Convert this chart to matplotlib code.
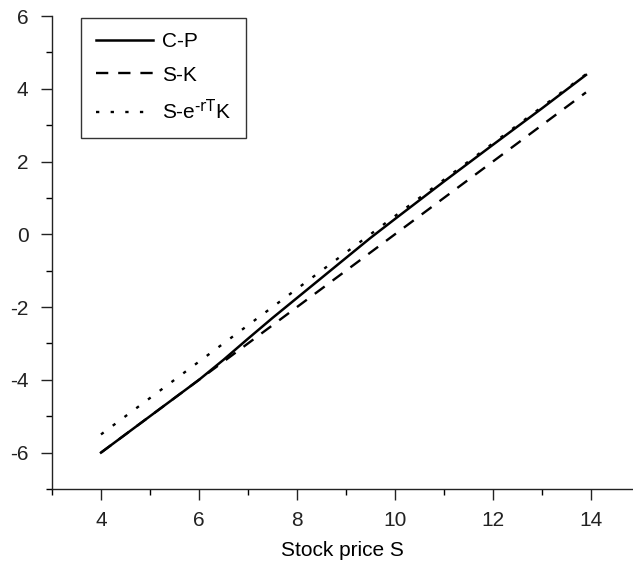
import numpy as np
import matplotlib
matplotlib.use("Agg")
import matplotlib.pyplot as plt
from matplotlib.ticker import MultipleLocator

plt.rcParams["font.family"] = ["Liberation Sans", "DejaVu Sans"]
plt.rcParams["mathtext.default"] = "regular"
plt.rcParams["axes.unicode_minus"] = False

# Stock price grid and read-off values
S = [4, 5, 6, 6.5, 7, 7.5, 8, 8.5, 9, 9.5, 10, 11, 12, 13, 13.9]
c_minus_p = [-6.0, -5.0, -4.0, -3.45, -2.87, -2.3, -1.75, -1.2, -0.65, -0.1,
             0.42, 1.45, 2.46, 3.46, 4.38]
s_minus_k = [-6.0, -5.0, -4.0, -3.5, -3.0, -2.5, -2.0, -1.5, -1.0, -0.5,
             0.0, 1.0, 2.0, 3.0, 3.9]
s_minus_disc_k = [-5.5, -4.5, -3.5, -3.0, -2.5, -2.0, -1.5, -1.0, -0.5, 0.0,
                  0.5, 1.5, 2.5, 3.5, 4.4]

FS = 15

fig = plt.figure(figsize=(6.33, 5.66), dpi=100)
ax = fig.add_axes([52 / 633, 77 / 566, 581 / 633, 473 / 566])

ax.plot(S, c_minus_p, color="black", lw=1.8, ls="-", label="C-P")
ax.plot(S, s_minus_k, color="black", lw=1.7, ls=(0, (5.2, 4.2)), label="S-K")
ax.plot(S, s_minus_disc_k, color="black", lw=1.7, ls=(0, (1.4, 4.8)),
        label=r"S-e$^{\text{-rT}}$K")

ax.set_xlim(3, 14.86)
ax.set_ylim(-7, 6)
ax.xaxis.set_major_locator(MultipleLocator(2))
ax.xaxis.set_minor_locator(MultipleLocator(1))
ax.yaxis.set_major_locator(MultipleLocator(2))
ax.yaxis.set_minor_locator(MultipleLocator(1))
ax.tick_params(which="major", direction="out", length=8, width=1, labelsize=FS,
               colors="#222222")
ax.tick_params(axis="x", which="major", pad=8)
ax.tick_params(axis="y", which="major", pad=9)
ax.tick_params(which="minor", direction="out", length=4, width=1)
for side in ("top", "right"):
    ax.spines[side].set_visible(False)
for side in ("left", "bottom"):
    ax.spines[side].set_linewidth(1)
    ax.spines[side].set_color("#222222")

ax.set_xlabel("Stock price S", fontsize=FS, labelpad=8)

leg = ax.legend(loc="upper left", bbox_to_anchor=(0.05, 0.996), fontsize=FS,
                frameon=True, fancybox=False, handlelength=2.75,
                borderpad=0.7, labelspacing=0.68, handletextpad=0.45,
                borderaxespad=0)
leg.get_frame().set_edgecolor("black")
leg.get_frame().set_linewidth(1)

fig.savefig("out.png", dpi=100)
